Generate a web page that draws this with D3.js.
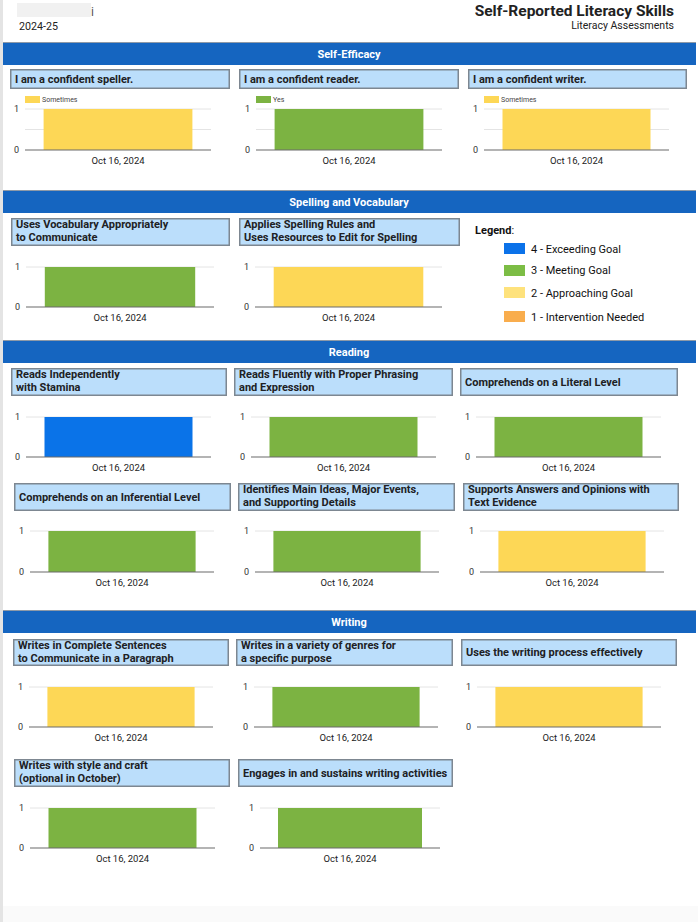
<!DOCTYPE html>
<html><head><meta charset="utf-8">
<script src="https://cdn.jsdelivr.net/npm/d3@7"></script>
<style>
body{margin:0;background:#fff;}
svg{display:block;font-family:Roboto,"Noto Sans",Arial,sans-serif;}
</style></head>
<body><svg id="c" width="698" height="922"></svg>
<script>
// ---------- DATA ----------
const reportTitle = "Self-Reported Literacy Skills";
const reportSubtitle = "Literacy Assessments";
const schoolYear = "2024-25";
const sectionNames = ["Self-Efficacy", "Spelling and Vocabulary", "Reading", "Writing"];
const panelTitles = [
  ["I am a confident speller."],
  ["I am a confident reader."],
  ["I am a confident writer."],
  ["Uses Vocabulary Appropriately", "to Communicate"],
  ["Applies Spelling Rules and", "Uses Resources to Edit for Spelling"],
  ["Reads Independently", "with Stamina"],
  ["Reads Fluently with Proper Phrasing", "and Expression"],
  ["Comprehends on a Literal Level"],
  ["Comprehends on an Inferential Level"],
  ["Identifies Main Ideas, Major Events,", "and Supporting Details"],
  ["Supports Answers and Opinions with", "Text Evidence"],
  ["Writes in Complete Sentences", "to Communicate in a Paragraph"],
  ["Writes in a variety of genres for", "a specific purpose"],
  ["Uses the writing process effectively"],
  ["Writes with style and craft", "(optional in October)"],
  ["Engages in and sustains writing activities"]
];
const panelSection = [0,0,0, 1,1, 2,2,2,2,2,2, 3,3,3,3,3];
const dates = ["Oct 16, 2024"];
const panelValues = [1,1,1, 1,1, 1,1,1,1,1,1, 1,1,1,1,1];
const panelLevels = [2,3,2, 3,2, 4,3,3,3,3,2, 2,3,2,3,3];
const seriesNames = ["Sometimes","Yes","Sometimes"]; // only Self-Efficacy panels show a series legend
const yTicks = [0, 1];
const levelValues = [4, 3, 2, 1];
const levelLabels = ["4 - Exceeding Goal", "3 - Meeting Goal", "2 - Approaching Goal", "1 - Intervention Needed"];

// ---------- STYLE / LAYOUT ----------
const levelColor = {4:"#0a73e8", 3:"#7cb342", 2:"#fdd756", 1:"#f9a94a"};
const legendColor = {4:"#0b72e9", 3:"#7cbd45", 2:"#fee27c", 1:"#f9ad4d"};
const sectionBars = [[42,65],[190,213],[340,363],[610,633]];
// box: x,y,w,h ; plot: x0,x1,top,bottom
const layout = [
  {b:[10,69,220,20],  p:[25,211,109,150]},
  {b:[239,69,220,20], p:[256,442,109,150]},
  {b:[468,69,219,20], p:[484,669,109,150]},
  {b:[11,218,219,28], p:[26,214,267,307]},
  {b:[239,218,221,28],p:[255,442,267,307]},
  {b:[11,368,216,28], p:[26,211,417,457]},
  {b:[234,368,219,28],p:[251,436,417,457]},
  {b:[460,368,218,28],p:[476,661,417,457]},
  {b:[14,483,217,28], p:[30,214,531,572]},
  {b:[238,483,217,28],p:[255,439,531,572]},
  {b:[463,483,216,28],p:[480,664,531,572]},
  {b:[13,639,216,27], p:[29,213,687,727]},
  {b:[236,639,217,27],p:[254,438,687,727]},
  {b:[461,639,216,27],p:[477,661,687,727]},
  {b:[14,759,216,28], p:[30,215,808,848]},
  {b:[238,759,215,28],p:[260,440,808,848]}
];

const svg = d3.select("#c");

// page frame
svg.append("rect").attr("x",0).attr("y",0).attr("width",3).attr("height",922).attr("fill","#e4e4e4");
svg.append("rect").attr("x",3).attr("y",906).attr("width",695).attr("height",16).attr("fill","#fafafa");

// header
svg.append("rect").attr("x",17).attr("y",3).attr("width",74).attr("height",14).attr("fill","#f1f1f1");
svg.append("text").attr("x",91).attr("y",16).attr("font-size",12).attr("fill","#555").text("i");
svg.append("text").attr("x",19).attr("y",29.5).attr("font-size",10.7).attr("fill","#222").text(schoolYear);
svg.append("text").attr("x",674).attr("y",16).attr("text-anchor","end").attr("font-size",15.5)
  .attr("font-weight","bold").attr("fill","#222").text(reportTitle);
svg.append("text").attr("x",674).attr("y",29).attr("text-anchor","end").attr("font-size",10.5)
  .attr("fill","#222").text(reportSubtitle);

// section bars
sectionNames.forEach((name,i)=>{
  const [y0,y1] = sectionBars[i];
  svg.append("rect").attr("x",3).attr("y",y0).attr("width",693).attr("height",y1-y0).attr("fill","#1565c0");
  svg.append("line").attr("x1",3).attr("x2",696).attr("y1",y0+0.5).attr("y2",y0+0.5).attr("stroke","#8e9aa8").attr("stroke-width",1);
  svg.append("text").attr("x",349).attr("y",(y0+y1)/2+4).attr("text-anchor","middle")
    .attr("font-size",11).attr("font-weight","bold").attr("fill","#fff").text(name);
});

// panels
panelTitles.forEach((lines,i)=>{
  const L = layout[i];
  const [bx,by,bw,bh] = L.b;
  const [px0,px1,pt,pb] = L.p;
  const g = svg.append("g");
  g.append("rect").attr("x",bx+0.75).attr("y",by+0.75).attr("width",bw-1.5).attr("height",bh-1.5)
    .attr("fill","#bbdefb").attr("stroke","#7d8791").attr("stroke-width",1.5);
  const mid = by + bh/2;
  lines.forEach((t,j)=>{
    const yy = lines.length===1 ? mid+3.8 : mid - 4 + j*13;
    g.append("text").attr("x",bx+5).attr("y",yy).attr("font-size",11).attr("font-weight","bold")
      .attr("fill","#202124").text(t);
  });

  const x = d3.scaleBand().domain(dates).range([px0,px1]).paddingInner(0.2).paddingOuter(0.1);
  const y = d3.scaleLinear().domain([0,1]).range([pb,pt]);
  const sec = panelSection[i];
  const gridVals = sec===0 ? [0,0.5,1] : yTicks;

  // gridlines
  g.append("g").selectAll("line").data(gridVals.filter(v=>v!==0)).join("line")
    .attr("x1",px0).attr("x2",px1).attr("y1",d=>y(d)).attr("y2",d=>y(d))
    .attr("stroke","#e4e4e4").attr("stroke-width",1);

  // bars
  const data = dates.map((d,k)=>({date:d, value:panelValues[i]}));
  g.append("g").selectAll("rect").data(data).join("rect")
    .attr("x",d=>x(d.date)).attr("width",x.bandwidth())
    .attr("y",d=>y(d.value)).attr("height",d=>y(0)-y(d.value))
    .attr("fill",levelColor[panelLevels[i]]);

  // y axis labels
  const ya = d3.axisLeft(y).tickValues(yTicks).tickSize(0).tickPadding(6).tickFormat(d3.format("d"));
  const yg = g.append("g").attr("transform",`translate(${px0},0)`).call(ya);
  yg.select(".domain").remove();
  yg.selectAll("text").attr("font-size",9).attr("fill","#333").attr("font-family","Roboto,Arial,sans-serif");

  // baseline
  g.append("line").attr("x1",px0).attr("x2",px1).attr("y1",y(0)).attr("y2",y(0))
    .attr("stroke","#6b6b6b").attr("stroke-width",1.2);

  // x axis
  const xa = d3.axisBottom(x).tickSize(0).tickPadding(7);
  const xg = g.append("g").attr("transform",`translate(0,${pb})`).call(xa);
  xg.select(".domain").remove();
  xg.selectAll("text").attr("font-size",9.5).attr("fill","#222").attr("font-family","Roboto,Arial,sans-serif");

  // series legend (Self-Efficacy)
  if (sec===0) {
    g.append("rect").attr("x",px0).attr("y",pt-13).attr("width",15).attr("height",7)
      .attr("fill",levelColor[panelLevels[i]]);
    g.append("text").attr("x",px0+17).attr("y",pt-7).attr("font-size",7).attr("fill","#444").text(seriesNames[i]);
  }
});

// level legend
const lg = svg.append("g");
const lt = lg.append("text").attr("x",475).attr("y",234).attr("font-size",11).attr("fill","#111");
lt.append("tspan").attr("font-weight","bold").text("Legend");
lt.append("tspan").text(":");
const swY = [243,265,287,311];
const txY = [253,274,297,321];
levelValues.forEach((v,i)=>{
  lg.append("rect").attr("x",504).attr("y",swY[i]).attr("width",21).attr("height",11).attr("fill",legendColor[v]);
  lg.append("text").attr("x",531).attr("y",txY[i]).attr("font-size",11).attr("fill","#111").text(levelLabels[i]);
});
</script>
</body></html>
